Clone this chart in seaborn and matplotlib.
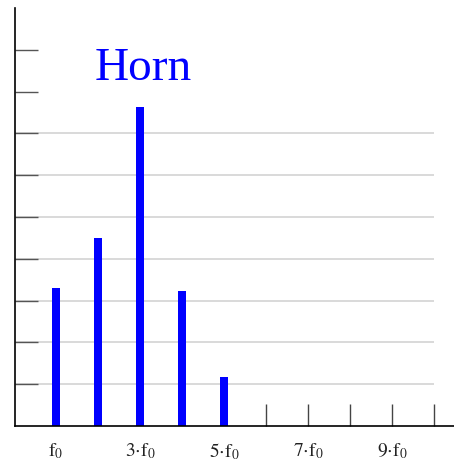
import matplotlib
matplotlib.use("Agg")
import matplotlib.pyplot as plt
import seaborn as sns
import pandas as pd

# Data
harmonics = [1, 2, 3, 4, 5]
amplitudes = [3.3, 4.5, 7.63, 3.23, 1.17]
label_positions = [1, 3, 5, 7, 9]
label_texts = [r"$\mathrm{f_0}$", r"$\mathrm{3{\cdot}f_0}$", r"$\mathrm{5{\cdot}f_0}$",
               r"$\mathrm{7{\cdot}f_0}$", r"$\mathrm{9{\cdot}f_0}$"]
tick_marks_x = [6, 7, 8, 9, 10]
grid_levels = [1, 2, 3, 4, 5, 6, 7]
y_tick_levels = [1, 2, 3, 4, 5, 6, 7, 8, 9]
title = "Horn"

sns.set_style("white")
plt.rcParams["mathtext.fontset"] = "stix"
plt.rcParams["font.family"] = ["Liberation Serif", "DejaVu Serif"]

df = pd.DataFrame({"harmonic": harmonics, "amplitude": amplitudes})

fig = plt.figure(figsize=(4.54, 4.66), dpi=100)
ax = fig.add_axes([15 / 454, 40 / 466, 439 / 454, 418 / 466])

ax.hlines(grid_levels, 0.0, 10.0, colors="#d0d0d0", linewidth=1.1, zorder=0)

sns.barplot(data=df, x="harmonic", y="amplitude", native_scale=True,
            width=0.19, color="#0000ff", saturation=1, linewidth=0, ax=ax, zorder=2)

ax.set_xlim(0.024, 10.476)
ax.set_ylim(0, 10)

for s in ["top", "right"]:
    ax.spines[s].set_visible(False)
for s in ["left", "bottom"]:
    ax.spines[s].set_color("black")
    ax.spines[s].set_linewidth(1.2)

ax.set_yticks(y_tick_levels)
ax.set_yticklabels([])
ax.tick_params(axis="y", direction="in", length=16.5, width=1.0, color="#555555", left=True)

ax.xaxis.remove_overlapping_locs = False
ax.set_xticks(label_positions)
ax.set_xticklabels(label_texts, fontsize=14)
ax.tick_params(axis="x", which="major", length=0, pad=11, labelcolor="#222222")
ax.set_xticks(tick_marks_x, minor=True)
ax.tick_params(axis="x", which="minor", direction="in", length=16, width=1.0,
               color="#444444", bottom=True)

ax.set_xlabel("")
ax.set_ylabel("")

fig.text(95 / 454, 1 - 80 / 466, title, color="#0000ff", fontsize=34,
         family=["Liberation Serif", "DejaVu Serif"], ha="left", va="baseline")

fig.savefig("out.png", dpi=100)
